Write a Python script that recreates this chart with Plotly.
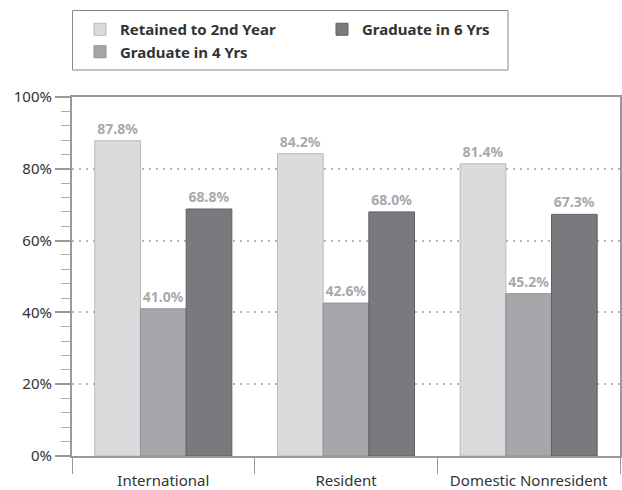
import plotly.graph_objects as go

categories = ["International", "Resident", "Domestic Nonresident"]
retained_2nd_year = [87.8, 84.2, 81.4]
graduate_4_yrs = [41.0, 42.6, 45.2]
graduate_6_yrs = [68.8, 68.0, 67.3]
y_ticks = [0, 20, 40, 60, 80, 100]
y_tick_labels = ["0%", "20%", "40%", "60%", "80%", "100%"]

series = [
    ("Retained to 2nd Year", retained_2nd_year, "#dadbdd", "#b7b8bb", 1),
    ("Graduate in 4 Yrs", graduate_4_yrs, "#a6a7aa", "#8f9093", 3),
    ("Graduate in 6 Yrs", graduate_6_yrs, "#797a7d", "#5f6063", 2),
]

W, H = 622, 490
L, R, T, B = 72, 2, 97, 34
PW, PH = W - L - R, H - T - B

def px_x(p):
    return (p - L) / PW

def px_y(p):
    return (H - B - p) / PH

fig = go.Figure()
for name, vals, fill, line, rank in series:
    fig.add_trace(go.Bar(
        name=name, x=categories, y=vals,
        marker=dict(color=fill, line=dict(color=line, width=1)),
        text=[f"{v:.1f}%" for v in vals], textposition="outside",
        textfont=dict(family="Noto Sans", size=14, color="#a8a9ac", weight="bold"),
        cliponaxis=False, legendrank=rank,
    ))

fig.update_layout(
    width=W, height=H,
    margin=dict(l=L, r=R, t=T, b=B, autoexpand=False),
    paper_bgcolor="white", plot_bgcolor="white",
    barmode="group", bargap=0.25, bargroupgap=0,
    font=dict(family="Noto Sans", color="#333333"),
    legend=dict(
        orientation="h", x=px_x(80), y=px_y(13), xanchor="left", yanchor="top",
        borderwidth=0, bgcolor="rgba(0,0,0,0)",
        font=dict(family="Noto Sans", size=15, color="#333333", weight="bold"),
        entrywidth=197, entrywidthmode="pixels", traceorder="normal",
    ),
    showlegend=True,
    shapes=[dict(
        type="rect", xref="paper", yref="paper",
        x0=px_x(72.5), x1=px_x(508), y0=px_y(70), y1=px_y(10.5),
        line=dict(color="#8a8a8a", width=1), fillcolor="rgba(0,0,0,0)", layer="below",
    )],
)
fig.update_xaxes(
    type="category", tickson="boundaries", ticks="outside", ticklen=16,
    tickcolor="#999999", tickwidth=1, showline=True, linecolor="#9a9a9a",
    linewidth=2, mirror=True, showgrid=False, ticklabelstandoff=10,
    tickfont=dict(family="Noto Sans", size=15, color="#333333"),
    range=[-0.5, 2.5],
)
fig.update_yaxes(
    range=[0, 100], tickvals=y_ticks, ticktext=y_tick_labels,
    ticks="outside", ticklen=15, tickcolor="#999999", tickwidth=2,
    showline=True, linecolor="#9a9a9a", linewidth=2, mirror=True,
    showgrid=True, gridcolor="#b5b5b5", gridwidth=2, griddash="2px,5px",
    zeroline=False,
    minor=dict(dtick=4, ticks="outside", ticklen=9, tickcolor="#aaaaaa", tickwidth=1, showgrid=False),
    tickfont=dict(family="Noto Sans", size=15, color="#333333"),
)
fig.write_html("out.html", post_script="document.body.style.margin='0';",
               config={"displayModeBar": False})
